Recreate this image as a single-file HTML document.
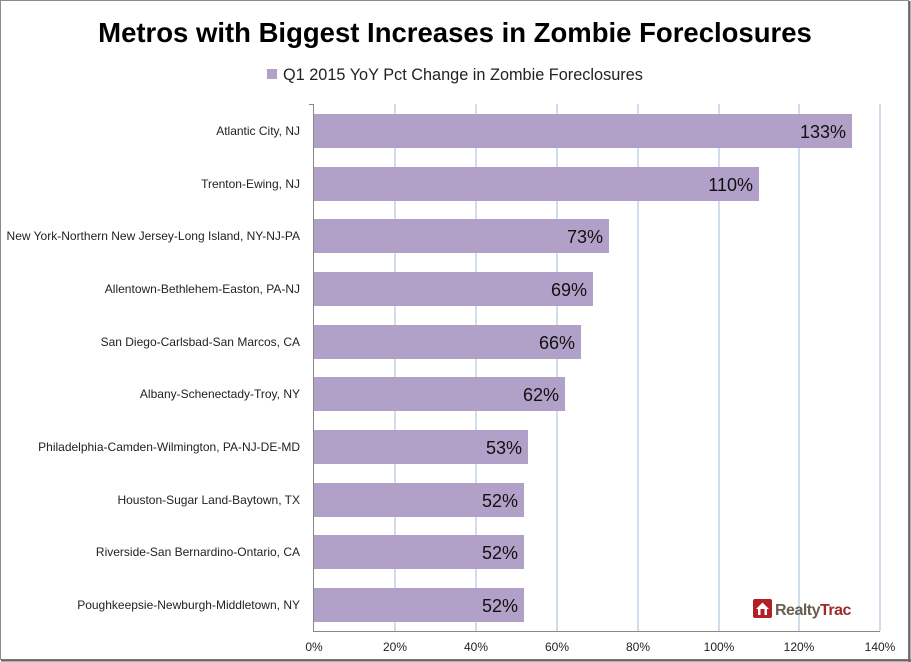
<!DOCTYPE html>
<html><head><style>body{margin:0;background:#fff}svg{display:block}</style></head><body>
<svg width="911" height="662" xmlns="http://www.w3.org/2000/svg" font-family="Liberation Sans, sans-serif">
<rect x="0.5" y="0.5" width="908" height="659" fill="#fff" stroke="#8c8c8c" stroke-width="1"/>
<line x1="1" y1="660.5" x2="911" y2="660.5" stroke="#666" stroke-width="2"/>
<line x1="909.5" y1="1" x2="909.5" y2="662" stroke="#666" stroke-width="2"/>
<text x="455" y="42" text-anchor="middle" font-size="27.5" font-weight="bold" fill="#000">Metros with Biggest Increases in Zombie Foreclosures</text>
<rect x="267" y="69" width="10" height="10" fill="#b1a0c7"/>
<text x="283" y="80" font-size="16.3" fill="#222">Q1 2015 YoY Pct Change in Zombie Foreclosures</text>
<g stroke="#c0d2ea" stroke-width="1.5">
<line x1="395" y1="104" x2="395" y2="631"/><line x1="476" y1="104" x2="476" y2="631"/>
<line x1="557" y1="104" x2="557" y2="631"/><line x1="638" y1="104" x2="638" y2="631"/>
<line x1="719" y1="104" x2="719" y2="631"/><line x1="799" y1="104" x2="799" y2="631"/>
<line x1="880" y1="104" x2="880" y2="631"/>
</g>
<g stroke="#888" stroke-width="1">
<line x1="313.5" y1="104" x2="313.5" y2="631"/>
<line x1="313" y1="631.5" x2="880" y2="631.5"/>
<line x1="309" y1="104.5" x2="314" y2="104.5"/>
</g>
<g fill="#b1a0c7">
<rect x="314" y="114" width="538" height="34"/>
<rect x="314" y="167" width="445" height="34"/>
<rect x="314" y="219" width="295" height="34"/>
<rect x="314" y="272" width="279" height="34"/>
<rect x="314" y="325" width="267" height="34"/>
<rect x="314" y="377" width="251" height="34"/>
<rect x="314" y="430" width="214" height="34"/>
<rect x="314" y="483" width="210" height="34"/>
<rect x="314" y="535" width="210" height="34"/>
<rect x="314" y="588" width="210" height="34"/>
</g>
<g font-size="12" fill="#222" text-anchor="end">
<text x="300" y="135">Atlantic City, NJ</text>
<text x="300" y="188">Trenton-Ewing, NJ</text>
<text x="300" y="240">New York-Northern New Jersey-Long Island, NY-NJ-PA</text>
<text x="300" y="293">Allentown-Bethlehem-Easton, PA-NJ</text>
<text x="300" y="346">San Diego-Carlsbad-San Marcos, CA</text>
<text x="300" y="398">Albany-Schenectady-Troy, NY</text>
<text x="300" y="451">Philadelphia-Camden-Wilmington, PA-NJ-DE-MD</text>
<text x="300" y="504">Houston-Sugar Land-Baytown, TX</text>
<text x="300" y="556">Riverside-San Bernardino-Ontario, CA</text>
<text x="300" y="609">Poughkeepsie-Newburgh-Middletown, NY</text>
</g>
<g font-size="18" fill="#111" text-anchor="end">
<text x="846" y="138">133%</text>
<text x="753" y="191">110%</text>
<text x="603" y="243">73%</text>
<text x="587" y="296">69%</text>
<text x="575" y="349">66%</text>
<text x="559" y="401">62%</text>
<text x="522" y="454">53%</text>
<text x="518" y="507">52%</text>
<text x="518" y="559">52%</text>
<text x="518" y="612">52%</text>
</g>
<g font-size="12" fill="#222" text-anchor="middle">
<text x="314" y="651">0%</text><text x="395" y="651">20%</text><text x="476" y="651">40%</text>
<text x="557" y="651">60%</text><text x="638" y="651">80%</text><text x="719" y="651">100%</text>
<text x="799" y="651">120%</text><text x="880" y="651">140%</text>
</g>
<rect x="753" y="599" width="19" height="19" rx="2" fill="#b22024"/>
<path d="M756 609 L762.5 602.5 L769 609 L767 609 L767 615 L758 615 L758 609 Z" fill="#fff"/>
<rect x="760.5" y="609" width="4" height="6" fill="#b22024"/>
<text x="775" y="615" font-size="16" font-weight="bold" fill="#6b5f52" letter-spacing="-0.5">Realty<tspan fill="#9e2a2b">Trac</tspan></text>
</svg>
</body></html>
